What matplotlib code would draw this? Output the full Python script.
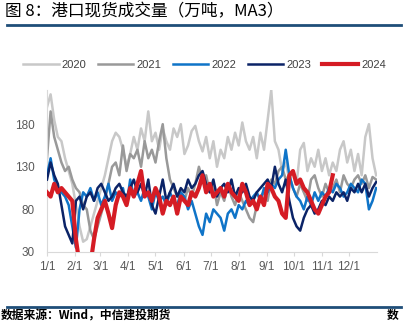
import matplotlib
matplotlib.use("Agg")
import matplotlib.pyplot as plt
from matplotlib.lines import Line2D

plt.rcParams['font.family'] = ['Liberation Sans', 'Noto Sans CJK SC', 'DejaVu Sans']

# day of year (0 = 1/1), sampled every 4 days
days = list(range(0, 365, 4))

y2020 = [200, 215, 185, 165, 160, 140, 125, 110, 85, 60, 42, 45, 60, 75, 90, 105,
         120, 140, 160, 170, 165, 150, 130, 145, 165, 150, 175, 160, 195, 160, 170, 150,
         175, 160, 150, 175, 165, 180, 145, 155, 172, 178, 160, 148, 165, 140, 160, 130,
         150, 140, 165, 150, 170, 155, 182, 160, 150, 165, 140, 170, 150, 185, 220, 160,
         150, 125, 135, 115, 125, 110, 150, 158, 125, 140, 130, 150, 125, 140, 120, 135,
         125, 150, 160, 135, 150, 125, 145, 120, 165, 180, 140, 120]
y2021 = [140, 195, 165, 150, 135, 125, 130, 115, 105, 100, 85, 80, 55, 45, 60, 75,
         90, 110, 130, 135, 120, 155, 125, 145, 140, 150, 130, 160, 140, 150, 135, 160,
         180, 140, 115, 105, 95, 100, 90, 105, 95, 110, 130, 115, 120, 100, 110, 85,
         100, 90, 110, 95, 85, 100, 90, 80, 70, 65, 85, 95, 100, 90, 115, 110,
         125, 130, 115, 120, 105, 95, 110, 100, 90, 115, 120, 105, 95, 110, 100, 105,
         115, 100, 120, 110, 105, 115, 120, 110, 120, 105, 118, 115]
y2022 = [120, 140, 115, 105, 100, 95, 85, 60, 35, 80, 100, 95, 105, 90, 100, 85,
         95, 110, 90, 100, 95, 105, 85, 115, 95, 100, 90, 105, 95, 80, 100, 90,
         95, 85, 100, 90, 85, 100, 95, 80, 90, 75, 60, 50, 75, 65, 80, 75,
         70, 55, 75, 80, 70, 85, 80, 90, 85, 95, 100, 90, 105, 100, 110, 105,
         115, 120, 150, 120, 105, 95, 90, 80, 95, 85, 100, 90, 100, 95, 105, 100,
         110, 105, 95, 100, 110, 105, 100, 115, 110, 80, 90, 105]
y2023 = [115, 135, 120, 110, 85, 60, 50, 40, 90, 95, 80, 95, 100, 90, 105, 110,
         100, 90, 95, 105, 110, 100, 95, 105, 115, 100, 110, 95, 115, 85, 75, 95,
         115, 90, 100, 110, 95, 105, 100, 115, 105, 110, 120, 125, 110, 100, 115, 95,
         105, 110, 100, 115, 95, 105, 100, 110, 95, 90, 100, 105, 110, 115, 105, 130,
         110, 100, 115, 90, 70, 60, 55, 70, 80, 85, 75, 80, 90, 85, 95, 90,
         100, 95, 100, 90, 105, 100, 110, 100, 110, 95, 105, 112]

days_2024 = list(range(0, 317, 4))
y2024 = [100, 95, 110, 100, 105, 100, 95, 90, 45, 15, 10, 10, 15, 45, 70, 80,
         90, 75, 58, 85, 100, 95, 85, 105, 95, 110, 125, 95, 100, 90, 105, 95,
         75, 90, 85, 95, 75, 95, 90, 85, 100, 95, 105, 120, 100, 110, 95, 100,
         105, 95, 110, 100, 95, 90, 110, 100, 85, 90, 80, 95, 85, 110, 105, 95,
         90, 75, 70, 120, 125, 110, 115, 105, 100, 90, 80, 75, 85, 95, 100, 120]

month_starts = [0, 31, 59, 90, 120, 151, 181, 212, 243, 273, 304, 334]
month_labels = ["1/1", "2/1", "3/1", "4/1", "5/1", "6/1",
                "7/1", "8/1", "9/1", "10/1", "11/1", "12/1"]

fig = plt.figure(figsize=(4.05, 3.23), dpi=100)
ax = fig.add_axes([0.116, 0.220, 0.815, 0.501])

ax.plot(days, y2020, color="#c8c8c8", lw=1.8, label="2020", zorder=1)
ax.plot(days, y2021, color="#999999", lw=1.8, label="2021", zorder=2)
ax.plot(days, y2022, color="#0f74c8", lw=1.8, label="2022", zorder=3)
ax.plot(days, y2023, color="#0b2367", lw=1.8, label="2023", zorder=4)
ax.plot(days_2024, y2024, color="#d51c24", lw=3.0, label="2024", zorder=5)

ax.set_xlim(0, 365)
ax.set_ylim(30, 220)
ax.set_yticks([30, 80, 130, 180])
ax.set_xticks(month_starts)
ax.set_xticklabels(month_labels)
ax.tick_params(axis="x", colors="#595959", labelsize=8.5, length=3, color="#d9d9d9")
ax.tick_params(axis="y", colors="#595959", labelsize=8.5, length=0, pad=9)
for s in ["top", "right"]:
    ax.spines[s].set_visible(False)
ax.spines["left"].set_color("#d9d9d9")
ax.spines["bottom"].set_color("#d9d9d9")

fig.legend(loc="center", bbox_to_anchor=(0.505, 0.80), ncol=5, frameon=False,
           fontsize=8, handlelength=3.2, columnspacing=1.0, handletextpad=0.3,
           labelcolor="#404040")

fig.text(0.012, 0.962, "图 8：港口现货成交量（万吨，MA3）", fontsize=12,
         family=["Noto Sans CJK SC", "DejaVu Sans"], va="center", ha="left")
fig.add_artist(Line2D([0.017, 0.99], [0.922, 0.922], color="#1f4e79", lw=2))
fig.add_artist(Line2D([0.017, 0.99], [0.050, 0.050], color="#1f4e79", lw=2))
fig.text(0.002, 0.022, "数据来源：Wind，中信建投期货", fontsize=8.5, style="italic",
         weight="bold", family=["Noto Sans CJK SC", "DejaVu Sans"],
         va="center", ha="left")
fig.text(0.955, 0.022, "数", fontsize=8.5, weight="bold",
         family=["Noto Sans CJK SC", "DejaVu Sans"], va="center", ha="left")

fig.savefig("out.png", dpi=100)
